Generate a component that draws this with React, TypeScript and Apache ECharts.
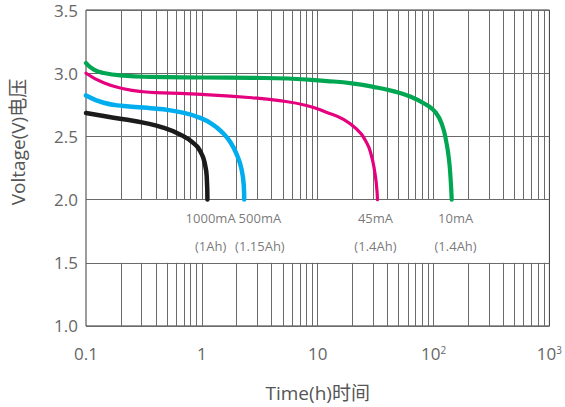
import React, { useEffect, useRef } from "react";
import * as echarts from "echarts";

// Discharge curves: [time (h), voltage (V)]
const curve1000mA: [number, number][] = [
  [0.1, 2.685], [0.142, 2.661], [0.211, 2.635], [0.312, 2.609], [0.463, 2.57],
  [0.642, 2.517], [0.834, 2.452], [0.982, 2.373], [1.07, 2.268], [1.104, 2.164], [1.117, 2.0],
];
const curve500mA: [number, number][] = [
  [0.1, 2.824], [0.142, 2.766], [0.211, 2.74], [0.312, 2.728], [0.463, 2.714],
  [0.685, 2.688], [0.951, 2.649], [1.235, 2.596], [1.503, 2.531], [1.77, 2.452],
  [2.02, 2.347], [2.2, 2.241], [2.3, 2.11], [2.32, 2.0],
];
const curve45mA: [number, number][] = [
  [0.1, 3.0], [0.142, 2.924], [0.211, 2.877], [0.312, 2.853], [0.463, 2.845],
  [1, 2.832], [2.71, 2.806], [4.5, 2.785], [8, 2.745], [12, 2.69], [16.7, 2.635],
  [21.7, 2.557], [26.4, 2.452], [29.1, 2.347], [31.1, 2.216], [32.2, 2.11], [32.8, 2.0],
];
const curve10mA: [number, number][] = [
  [0.1, 3.08], [0.117, 3.028], [0.142, 3.002], [0.211, 2.981], [0.356, 2.971],
  [1, 2.966], [2.71, 2.963], [5.5, 2.958], [12, 2.938], [20.4, 2.918], [30.1, 2.892],
  [44.7, 2.858], [61.9, 2.818], [85.9, 2.753], [104.5, 2.688], [119.2, 2.583],
  [129, 2.452], [135.7, 2.321], [140.3, 2.164], [143.4, 2.0],
];

const seriesNames = ["1000mA", "500mA", "45mA", "10mA"];
const seriesColors = ["#1b1b1b", "#00aeef", "#e5007e", "#00a651"];
const seriesWidths = [4.5, 4.5, 3.2, 4.2];

// Band annotations
const labelX = [1.19, 3.17, 31.5, 155];
const labelCurrent = ["1000mA", "500mA", "45mA", "10mA"];
const labelCapacity = ["(1Ah)", "(1.15Ah)", "(1.4Ah)", "(1.4Ah)"];
const labelCurrentY = 1.857;
const labelCapacityY = 1.629;

// Log grid lines
const gridX = [
  0.2, 0.3, 0.4, 0.5, 0.6, 0.7, 0.8, 0.9, 1,
  2, 3, 4, 5, 6, 7, 8, 9, 10,
  20, 30, 40, 50, 60, 70, 80, 90, 100,
  200, 300, 400, 500, 600, 700, 800, 900,
];
const bandLow = 1.5;
const bandHigh = 2.0;
const yMin = 1.0;
const yMax = 3.5;

const FONT = "'Open Sans', 'Noto Sans CJK SC', sans-serif";

export default function App() {
  const ref = useRef<HTMLDivElement>(null);
  useEffect(() => {
    if (!ref.current) return;
    const chart = echarts.init(ref.current, undefined, { renderer: "svg" });
    const gridSegs: any[] = [];
    gridX.forEach((x) => {
      gridSegs.push([{ coord: [x, yMin] }, { coord: [x, bandLow] }]);
      gridSegs.push([{ coord: [x, bandHigh] }, { coord: [x, yMax] }]);
    });
    const curves = [curve1000mA, curve500mA, curve45mA, curve10mA];
    chart.setOption({
      animation: false,
      textStyle: { fontFamily: FONT },
      grid: {
        left: 86,
        right: 10,
        top: 10,
        bottom: 79,
        show: true,
        borderColor: "#3a3a3a",
        borderWidth: 1,
        backgroundColor: "transparent",
      },
      xAxis: {
        type: "log",
        logBase: 10,
        min: 0.1,
        max: 1000,
        axisLine: { show: false },
        axisTick: { show: false },
        splitLine: { show: false },
        axisLabel: {
          color: "#666",
          fontSize: 17,
          fontFamily: FONT,
          margin: 19,
          formatter: (v: number) => {
            if (v >= 100) {
              const e = Math.round(Math.log10(v));
              return "10{sup|" + e + "}";
            }
            if (v < 1) return "0.1";
            return String(Math.round(v));
          },
          rich: {
            sup: {
              fontSize: 10,
              color: "#666",
              fontFamily: FONT,
              verticalAlign: "top",
              padding: [0, 0, 8, 0],
            },
          },
        },
        name: "Time(h)时间",
        nameLocation: "middle",
        nameGap: 57,
        nameTextStyle: { color: "#555", fontSize: 19, fontFamily: FONT },
      },
      yAxis: {
        type: "value",
        min: yMin,
        max: yMax,
        interval: 0.5,
        axisLine: { show: false },
        axisTick: { show: false },
        axisLabel: {
          color: "#666",
          fontSize: 17,
          fontFamily: FONT,
          margin: 8,
          formatter: (v: number) => v.toFixed(1),
        },
        splitLine: { show: true, lineStyle: { color: "#6a6a6a", width: 1 } },
      },
      graphic: [
        {
          type: "text",
          x: 18,
          y: 142,
          rotation: Math.PI / 2,
          style: {
            text: "Voltage(V)电压",
            fill: "#555",
            fontSize: 19,
            fontFamily: FONT,
            align: "center",
            verticalAlign: "middle",
          },
        },
      ],
      series: [
        {
          type: "line",
          data: [],
          silent: true,
          z: 1,
          markLine: {
            silent: true,
            symbol: ["none", "none"],
            label: { show: false },
            lineStyle: { color: "#6a6a6a", width: 1, type: "solid" },
            emphasis: { disabled: true },
            data: gridSegs,
          },
        },
        ...curves.map((c, i) => ({
          type: "line",
          name: seriesNames[i],
          data: c,
          showSymbol: false,
          symbol: "none",
          smooth: 0.5,
          z: 5,
          lineStyle: { color: seriesColors[i], width: seriesWidths[i], cap: "round", join: "round" },
        })),
        {
          type: "scatter",
          symbolSize: 1,
          itemStyle: { color: "rgba(0,0,0,0)" },
          z: 6,
          silent: true,
          data: [
            ...labelX.map((x, i) => [x, labelCurrentY, labelCurrent[i]]),
            ...labelX.map((x, i) => [x, labelCapacityY, labelCapacity[i]]),
          ],
          label: {
            show: true,
            position: "inside",
            color: "#555",
            fontSize: 13,
            fontFamily: FONT,
            formatter: (p: any) => p.data[2],
          },
        },
      ],
    });
    return () => chart.dispose();
  }, []);
  return (
    <div
      ref={ref}
      style={{ position: "fixed", left: 0, top: 0, width: 565, height: 407, background: "#fff" }}
    />
  );
}
